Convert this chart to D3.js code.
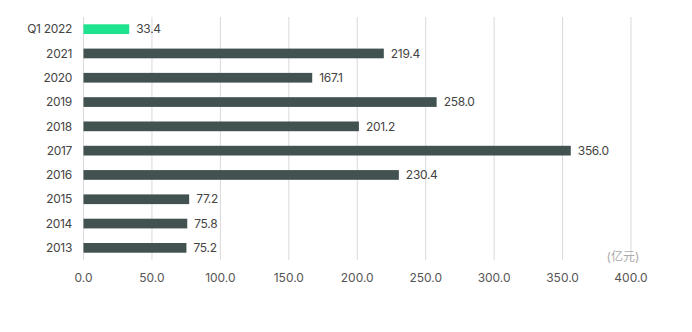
<!DOCTYPE html>
<html><head><meta charset="utf-8">
<script src="https://cdn.jsdelivr.net/npm/d3@7"></script>
<style>body{margin:0;background:#fff}</style>
</head><body>
<svg id="c" width="692" height="332"></svg>
<script>
const categories = ["Q1 2022","2021","2020","2019","2018","2017","2016","2015","2014","2013"];
const values = [33.4,219.4,167.1,258.0,201.2,356.0,230.4,77.2,75.8,75.2];
const ticks = [0,50,100,150,200,250,300,350,400];
const unitLabel = "(亿元)";

const svg = d3.select("#c");
const font = "Inter, 'Noto Sans CJK SC', sans-serif";
const x = d3.scaleLinear().domain([0,400]).range([83.5,631]);
const y = d3.scaleBand().domain(categories).range([17,260]).paddingInner(0.6).paddingOuter(0.3);

svg.append("g").selectAll("line").data(ticks).join("line")
  .attr("x1",d=>x(d)).attr("x2",d=>x(d)).attr("y1",17).attr("y2",260)
  .attr("stroke","#d9d9d9").attr("stroke-width",1);

svg.append("g").selectAll("text").data(ticks).join("text")
  .attr("x",d=>x(d)).attr("y",282).attr("text-anchor","middle")
  .attr("font-family",font).attr("font-size",12).attr("fill","#555")
  .text(d=>d.toFixed(1));

svg.append("text").attr("x",x(400)-8).attr("y",261).attr("text-anchor","middle")
  .attr("font-family",font).attr("font-size",12).attr("fill","#aaa").text(unitLabel);

svg.append("g").selectAll("rect").data(categories).join("rect")
  .attr("x",x(0)).attr("y",d=>y(d)).attr("height",y.bandwidth())
  .attr("width",(d,i)=>x(values[i])-x(0))
  .attr("fill",(d,i)=>i===0?"#1de38e":"#415250");

svg.append("g").selectAll("text").data(categories).join("text")
  .attr("x",(d,i)=>x(values[i])+7).attr("y",d=>y(d)+y.bandwidth()/2).attr("dy","0.35em")
  .attr("font-family",font).attr("font-size",12).attr("fill","#444").attr("letter-spacing","-0.3")
  .text((d,i)=>values[i].toFixed(1));

svg.append("g").selectAll("text").data(categories).join("text")
  .attr("x",72).attr("y",d=>y(d)+y.bandwidth()/2).attr("dy","0.35em").attr("text-anchor","end")
  .attr("font-family",font).attr("font-size",12).attr("fill","#444").attr("letter-spacing","-0.3")
  .text(d=>d);
</script>
</body></html>
